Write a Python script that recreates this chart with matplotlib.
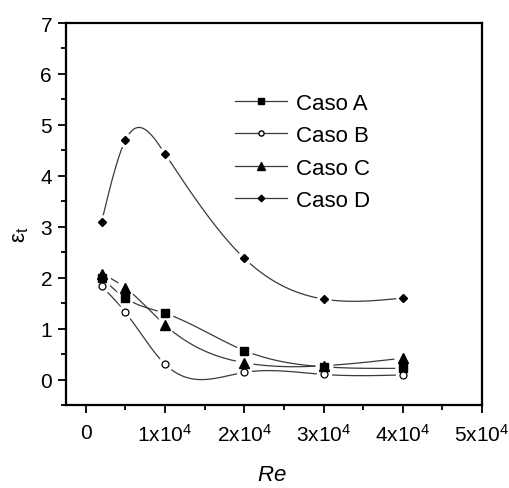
import numpy as np
import matplotlib
matplotlib.use("Agg")
import matplotlib.pyplot as plt
from matplotlib.ticker import FixedLocator, MultipleLocator

plt.rcParams['font.family'] = ['Liberation Sans', 'DejaVu Sans']
plt.rcParams['mathtext.fontset'] = 'custom'
plt.rcParams['mathtext.rm'] = 'Liberation Sans'
plt.rcParams['mathtext.it'] = 'Liberation Sans:italic'

re_vals = [2000, 5000, 10000, 20000, 30000, 40000]
caso_a = [2.00, 1.60, 1.30, 0.57, 0.25, 0.22]
caso_b = [1.83, 1.32, 0.30, 0.14, 0.10, 0.09]
caso_c = [2.08, 1.80, 1.07, 0.33, 0.27, 0.42]
caso_d = [3.10, 4.70, 4.43, 2.38, 1.58, 1.60]
series_names = ["Caso A", "Caso B", "Caso C", "Caso D"]
xtick_vals = [0, 10000, 20000, 30000, 40000, 50000]
xtick_labels = ["0", "1x10$^{4}$", "2x10$^{4}$", "3x10$^{4}$", "4x10$^{4}$",
                "5x10$^{4}$"]


def natural_spline(x, y, n=300):
    x = np.asarray(x, float)
    y = np.asarray(y, float)
    m = len(x)
    h = np.diff(x)
    A = np.zeros((m, m))
    b = np.zeros(m)
    A[0, 0] = 1
    A[-1, -1] = 1
    for i in range(1, m - 1):
        A[i, i - 1] = h[i - 1]
        A[i, i] = 2 * (h[i - 1] + h[i])
        A[i, i + 1] = h[i]
        b[i] = 3 * ((y[i + 1] - y[i]) / h[i] - (y[i] - y[i - 1]) / h[i - 1])
    c = np.linalg.solve(A, b)
    xs = np.linspace(x[0], x[-1], n)
    idx = np.clip(np.searchsorted(x, xs) - 1, 0, m - 2)
    dx = xs - x[idx]
    bb = (y[1:] - y[:-1]) / h - h * (2 * c[:-1] + c[1:]) / 3
    dd = (c[1:] - c[:-1]) / (3 * h)
    ys = y[idx] + bb[idx] * dx + c[idx] * dx ** 2 + dd[idx] * dx ** 3
    return xs, ys


fig = plt.figure(figsize=(5.10, 4.89), dpi=100)
ax = fig.add_axes([66 / 510, 1 - 406 / 489, (482 - 66) / 510, (406 - 24) / 489])

styles = [
    dict(marker='s', ms=6, mfc='black', mec='black'),
    dict(marker='o', ms=5, mfc='white', mec='black', mew=0.9),
    dict(marker='^', ms=7, mfc='black', mec='black'),
    dict(marker='D', ms=4.5, mfc='black', mec='black'),
]
line_color = '#3a3a3a'
handles = []
for vals, name, st in zip([caso_a, caso_b, caso_c, caso_d], series_names, styles):
    xs, ys = natural_spline(re_vals, vals)
    ax.plot(xs, ys, color=line_color, lw=0.9, zorder=2)
    ax.plot(re_vals, vals, linestyle='none', marker='o', ms=st['ms'] + 6,
            mfc='white', mec='none', zorder=3)
for vals, name, st in zip([caso_a, caso_b, caso_c, caso_d], series_names, styles):
    ax.plot(re_vals, vals, linestyle='none', zorder=4, **st)
    h, = ax.plot([], [], color=line_color, lw=0.9, marker=st['marker'],
                 ms=st['ms'] * 0.75, mfc=st['mfc'], mec=st['mec'], label=name)
    handles.append(h)

ax.set_xlim(-2500, 50000)
ax.set_ylim(-0.5, 7)
ax.xaxis.set_major_locator(FixedLocator(xtick_vals))
ax.set_xticklabels(xtick_labels)
ax.xaxis.set_minor_locator(MultipleLocator(5000))
ax.yaxis.set_major_locator(MultipleLocator(1))
ax.yaxis.set_minor_locator(MultipleLocator(0.5))
ax.tick_params(which='major', direction='out', length=6, width=1.3, labelsize=15)
ax.tick_params(which='minor', direction='out', length=3.5, width=1.3)
ax.tick_params(axis='x', pad=7)
ax.tick_params(axis='y', pad=4)
for s in ax.spines.values():
    s.set_linewidth(1.6)

ax.set_xlabel(r'$\mathit{Re}$', fontsize=16)
ax.xaxis.set_label_coords((272 - 66) / 416, -(486 - 406) / 382)
ax.xaxis.label.set_va('bottom')
ax.set_ylabel(r'$\mathrm{\varepsilon}_\mathrm{t}$', fontsize=16)
ax.yaxis.set_label_coords(-(66 - 31) / 416, (406 - 235) / 382)

leg = ax.legend(handles=handles, loc='upper left', bbox_to_anchor=(0.406, 0.818),
                frameon=False, fontsize=16, handlelength=2.35, handletextpad=0.42,
                labelspacing=0.52, borderaxespad=0, borderpad=0)

fig.savefig('out.png', dpi=100)
